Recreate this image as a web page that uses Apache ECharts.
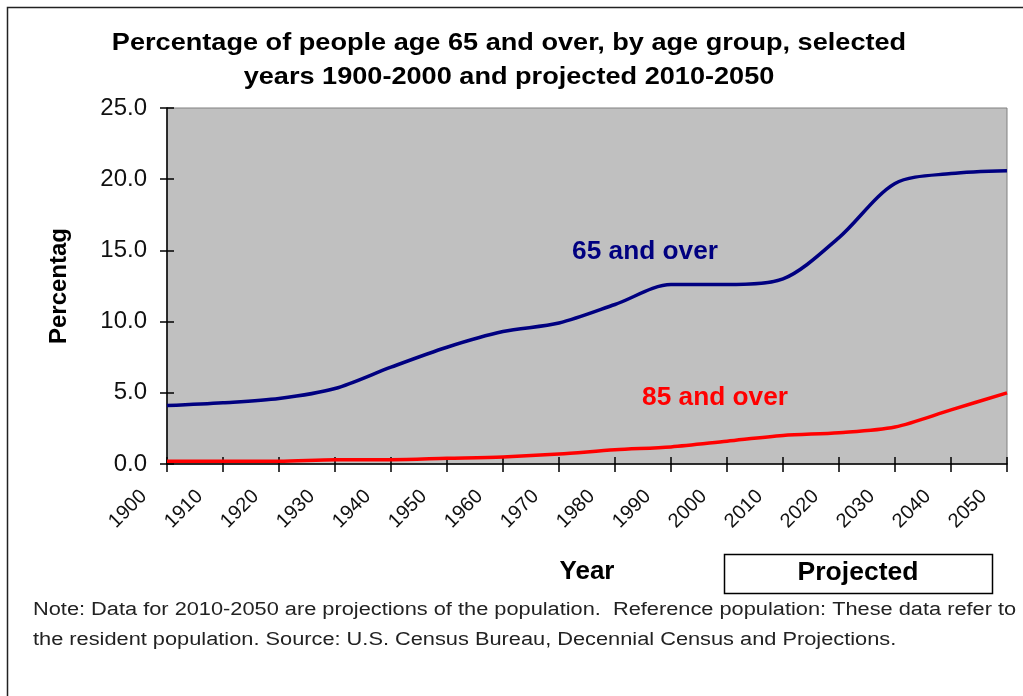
<!DOCTYPE html>
<html>
<head>
<meta charset="utf-8">
<title>Percentage of people age 65 and over</title>
<script src="https://cdn.jsdelivr.net/npm/echarts@6/dist/echarts.min.js"></script>
<style>
  html, body { margin: 0; padding: 0; background: #ffffff; }
  #chart { width: 1023px; height: 696px; }
</style>
</head>
<body>
<div id="chart"></div>
<script>
// Census years and projections
const years = ['1900', '1910', '1920', '1930', '1940', '1950', '1960', '1970',
               '1980', '1990', '2000', '2010', '2020', '2030', '2040', '2050'];
// Percent of total population, age 65 and over
const age65 = [4.1, 4.3, 4.6, 5.3, 6.8, 8.2, 9.3, 9.9, 11.2, 12.6, 12.6, 13.0, 15.9, 19.7, 20.4, 20.6];
// Percent of total population, age 85 and over
const age85 = [0.2, 0.2, 0.2, 0.3, 0.3, 0.4, 0.5, 0.7, 1.0, 1.2, 1.6, 2.0, 2.2, 2.6, 3.8, 5.0];
const yTicks = { min: 0, max: 25, interval: 5 };

const titleLines = ['Percentage of people age 65 and over, by age group, selected',
                    'years 1900-2000 and projected 2010-2050'];
const noteLines = ['Note: Data for 2010-2050 are projections of the population.  Reference population: These data refer to',
                   'the resident population. Source: U.S. Census Bureau, Decennial Census and Projections.'];

const FONT = '"Liberation Sans", Arial, sans-serif';
const chart = echarts.init(document.getElementById('chart'), null, { renderer: 'canvas' });

function label(text, x, y, font, fill, scaleX, align) {
  return { type: 'text', x: x, y: y, scaleX: scaleX || 1, z: 11,
           style: { text: text, fill: fill, font: font,
                    textAlign: align || 'center', textVerticalAlign: 'middle' } };
}

chart.setOption({
  animation: false,
  backgroundColor: '#ffffff',
  grid: {
    left: 167, right: 16, top: 108, bottom: 232,
    show: true, backgroundColor: '#c0c0c0', borderColor: '#808080', borderWidth: 1
  },
  xAxis: [{
    type: 'category', data: years, boundaryGap: false,
    axisLine: { lineStyle: { color: '#000', width: 1.5 } },
    axisTick: { length: 8, lineStyle: { color: '#000', width: 1.5 } },
    axisLabel: { rotate: 45, margin: 6, padding: [0, 33, 0, 0], interval: 0,
                 fontFamily: FONT, fontSize: 20, color: '#111' },
    splitLine: { show: false }
  }, {
    type: 'category', data: years, boundaryGap: false, position: 'bottom',
    axisLine: { show: false },
    axisTick: { inside: true, length: 7, lineStyle: { color: '#000', width: 1.5 } },
    axisLabel: { show: false }, splitLine: { show: false }
  }],
  yAxis: [{
    type: 'value', min: yTicks.min, max: yTicks.max, interval: yTicks.interval,
    name: 'Percentag', nameLocation: 'middle', nameGap: 96, nameRotate: 90,
    nameTextStyle: { fontFamily: FONT, fontWeight: 'bold', fontSize: 24, color: '#000' },
    axisLine: { show: true, lineStyle: { color: '#000', width: 1.5 } },
    axisTick: { show: true, length: 7, lineStyle: { color: '#000', width: 1.5 } },
    axisLabel: { margin: 20, fontFamily: FONT, fontSize: 24, color: '#111',
                 formatter: v => v.toFixed(1) },
    splitLine: { show: false }
  }, {
    type: 'value', min: yTicks.min, max: yTicks.max, interval: yTicks.interval, position: 'left',
    axisLine: { show: false },
    axisTick: { show: true, inside: true, length: 7, lineStyle: { color: '#000', width: 1.5 } },
    axisLabel: { show: false }, splitLine: { show: false }
  }],
  series: [{
    name: '65 and over', type: 'line', data: age65, smooth: 0.3, symbol: 'none',
    lineStyle: { color: '#000080', width: 3.5 }, z: 3
  }, {
    name: '85 and over', type: 'line', data: age85, smooth: 0.3, symbol: 'none',
    lineStyle: { color: '#ff0000', width: 3.5 }, z: 3
  }],
  graphic: [
    // outer frame of the figure
    { type: 'rect', shape: { x: 7.5, y: 7.5, width: 1030, height: 700 },
      style: { fill: 'none', stroke: '#222', lineWidth: 1.5 }, silent: true },
    label(titleLines[0], 509, 43, 'bold 24px ' + FONT, '#000', 1.13),
    label(titleLines[1], 509, 77, 'bold 24px ' + FONT, '#000', 1.13),
    label('65 and over', 645, 252, 'bold 25px ' + FONT, '#000080', 1.05),
    label('85 and over', 715, 398, 'bold 25px ' + FONT, '#ff0000', 1.05),
    label('Year', 587, 572, 'bold 26px ' + FONT, '#000', 1),
    { type: 'rect', shape: { x: 724.5, y: 554.5, width: 268, height: 39 },
      style: { fill: '#fff', stroke: '#000', lineWidth: 1.5 }, z: 10 },
    label('Projected', 858, 573, 'bold 26px ' + FONT, '#000', 1.02),
    label(noteLines[0], 33, 610, '18px ' + FONT, '#222', 1.21, 'left'),
    label(noteLines[1], 33, 640, '18px ' + FONT, '#222', 1.21, 'left')
  ]
});
</script>
</body>
</html>
